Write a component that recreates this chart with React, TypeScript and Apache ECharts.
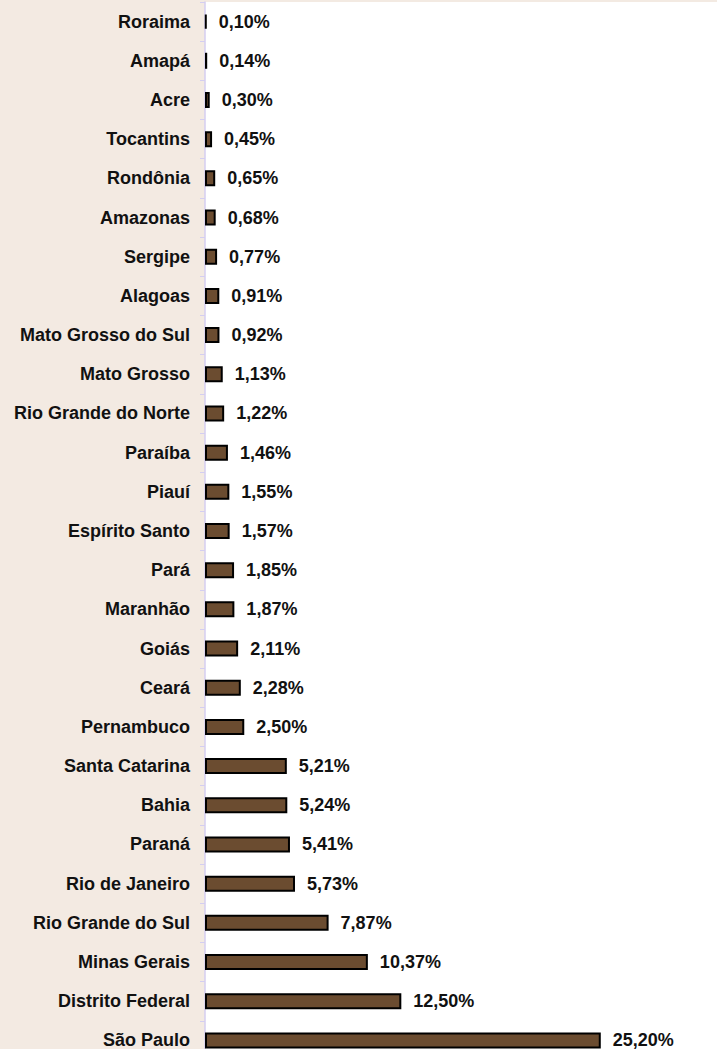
import React, { useEffect, useRef } from "react";
import * as echarts from "echarts";

const states = [
  "Roraima", "Amapá", "Acre", "Tocantins", "Rondônia", "Amazonas", "Sergipe", "Alagoas",
  "Mato Grosso do Sul", "Mato Grosso", "Rio Grande do Norte", "Paraíba", "Piauí",
  "Espírito Santo", "Pará", "Maranhão", "Goiás", "Ceará", "Pernambuco", "Santa Catarina",
  "Bahia", "Paraná", "Rio de Janeiro", "Rio Grande do Sul", "Minas Gerais",
  "Distrito Federal", "São Paulo",
];
const shares = [
  0.10, 0.14, 0.30, 0.45, 0.65, 0.68, 0.77, 0.91, 0.92, 1.13, 1.22, 1.46, 1.55, 1.57,
  1.85, 1.87, 2.11, 2.28, 2.50, 5.21, 5.24, 5.41, 5.73, 7.87, 10.37, 12.50, 25.20,
];

const FONT = "'Liberation Sans', Arial, sans-serif";

export default function App() {
  const ref = useRef<HTMLDivElement>(null);
  useEffect(() => {
    const chart = echarts.init(ref.current!, undefined, { renderer: "svg" });
    chart.setOption({
      animation: false,
      backgroundColor: "#f3eae2",
      grid: {
        left: 205,
        right: 0,
        top: 2,
        bottom: 0,
        show: true,
        backgroundColor: "#ffffff",
        borderWidth: 0,
        containLabel: false,
      },
      xAxis: {
        type: "value",
        min: 0,
        max: 32.6,
        show: false,
      },
      yAxis: {
        type: "category",
        data: states,
        inverse: true,
        axisLine: { show: true, lineStyle: { color: "#d4cef0", width: 1.5 } },
        axisTick: { show: true, length: 5, lineStyle: { color: "#d4cef0" } },
        axisLabel: {
          margin: 15,
          color: "#111111",
          fontFamily: FONT,
          fontWeight: "bold",
          fontSize: 18,
        },
        splitLine: { show: false },
      },
      series: [
        {
          type: "bar",
          data: shares,
          barWidth: 16,
          itemStyle: { color: "#6b4c30", borderColor: "#000000", borderWidth: 2 },
          label: {
            show: true,
            position: "right",
            distance: 12,
            offset: [0, 0],
            color: "#111111",
            fontFamily: FONT,
            fontWeight: "bold",
            fontSize: 18,
            lineHeight: 15,
            formatter: (p: any) => p.value.toFixed(2).replace(".", ",") + "%",
          },
        },
      ],
    });
    return () => chart.dispose();
  }, []);
  return (
    <div
      ref={ref}
      style={{ position: "fixed", left: 0, top: 0, width: 717, height: 1060 }}
    />
  );
}
